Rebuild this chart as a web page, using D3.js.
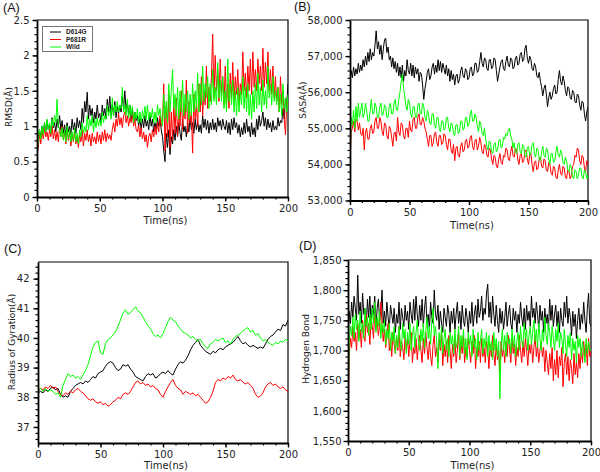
<!DOCTYPE html>
<html>
<head>
<meta charset="utf-8">
<script src="https://cdn.jsdelivr.net/npm/d3@7"></script>
<style>
  html, body { margin: 0; padding: 0; background: #fff; }
  svg { display: block; }
</style>
</head>
<body>
<svg id="chart" width="600" height="472"></svg>
<script>
// ---------------- DATA ----------------
const timeFine = d3.range(0, 201, 1);   // 0..200 ns every 1 ns (panels A, B, D)
const timeCoarse = d3.range(0, 201, 2); // 0..200 ns every 2 ns (panel C)
const seriesNames = ["D614G", "P681R", "Wild"];
const xTickLabels = [0, 50, 100, 150, 200];

// (A) RMSD (Å), 1 ns
const rmsdD614G = [
0.55,0.8,0.95,0.85,1.0,0.88,1.05,0.92,1.08,0.95,
1.02,0.9,1.12,0.98,1.05,0.92,1.1,0.98,1.15,0.95,
1.08,0.9,1.02,0.85,1.05,0.92,1.0,0.88,1.1,0.95,
1.05,0.9,1.12,0.98,1.08,0.95,1.25,1.05,1.35,1.2,
1.48,1.1,1.3,1.15,1.25,1.05,1.2,1.1,1.3,1.12,
1.18,1.05,1.3,1.15,1.25,1.1,1.38,1.2,1.42,1.15,
1.3,1.15,1.35,1.12,1.28,1.18,1.3,1.2,1.42,1.25,
1.5,1.2,1.35,1.15,1.3,1.1,1.25,1.05,1.2,1.08,
1.15,1.0,1.12,0.95,1.1,0.98,1.15,1.0,1.08,0.95,
1.15,1.0,1.1,0.92,1.05,0.95,1.12,1.0,1.1,0.95,
0.85,0.65,0.5,0.9,0.7,0.95,0.6,0.85,0.75,0.95,
0.8,1.0,0.85,1.05,0.9,0.8,1.1,0.92,1.0,0.85,
1.05,0.92,1.12,0.95,1.05,0.9,1.1,0.95,1.08,0.92,
1.02,0.9,1.15,0.98,1.1,0.95,1.08,0.9,1.05,0.95,
1.1,0.95,1.05,0.92,1.12,1.0,1.08,0.95,1.1,1.0,
0.95,1.08,0.9,1.05,0.88,1.1,0.95,1.12,0.98,1.05,
0.9,1.02,0.85,0.98,0.88,1.05,0.9,1.1,0.92,1.0,
0.85,1.05,0.88,0.98,0.85,1.1,0.95,1.15,1.0,1.08,
1.2,1.0,1.12,0.95,1.1,0.98,1.05,0.92,1.08,0.95,
1.0,0.95,1.12,1.0,1.08,1.05,1.25,1.1,1.4,1.3,
1.6];
const rmsdP681R = [
0.6,0.7,0.9,0.75,0.95,0.82,0.98,0.85,0.92,0.8,
0.95,0.85,1.0,0.82,0.95,0.8,0.92,0.78,0.98,0.85,
1.0,0.82,0.9,0.75,0.95,0.8,0.92,0.72,0.88,0.78,
0.92,0.75,0.85,0.7,0.88,0.78,0.95,0.72,0.9,0.8,
0.95,0.78,0.88,0.72,0.9,0.78,0.85,0.75,0.92,0.78,
0.88,0.75,0.92,0.8,0.95,0.78,0.9,0.82,0.88,0.8,
0.95,1.05,0.92,1.1,1.0,1.18,1.02,1.12,0.98,1.15,
1.2,1.05,1.15,1.0,1.12,1.05,1.18,1.0,1.1,0.95,
0.92,1.02,0.85,0.98,0.82,0.92,0.78,0.88,0.7,0.85,
0.9,0.78,0.95,0.85,1.0,0.88,1.05,0.92,1.15,1.0,
1.05,1.6,0.65,1.3,0.85,1.45,0.7,1.2,0.8,1.35,
0.9,1.4,0.85,1.25,1.0,1.5,0.95,1.3,1.1,1.65,
0.9,1.35,1.05,1.2,0.62,1.45,1.1,1.3,1.0,1.6,
1.2,1.7,1.15,1.5,1.3,1.85,1.25,1.55,1.35,1.7,
2.3,1.4,2.0,1.5,1.8,1.35,1.95,1.45,1.7,1.3,
1.85,1.3,1.6,1.25,1.75,1.4,1.9,1.35,1.7,1.45,
1.8,1.3,1.6,1.45,2.05,1.5,1.75,1.4,1.85,1.5,
1.95,1.45,2.05,1.55,1.8,1.5,1.95,1.6,1.85,1.5,
2.1,1.55,1.9,1.6,2.05,1.5,1.8,1.45,1.85,1.4,
1.7,1.35,1.55,1.2,1.7,1.3,1.5,1.1,0.88,1.35,
1.3];
const rmsdWild = [
0.65,0.8,0.95,0.82,1.0,0.88,1.05,0.92,1.1,0.95,
1.05,0.9,1.1,1.0,1.15,1.05,1.38,1.0,0.95,0.85,
0.98,0.8,0.95,0.78,1.0,0.82,0.95,0.78,0.92,0.8,
0.98,0.78,0.9,0.75,0.95,0.85,1.05,0.9,1.0,0.92,
1.15,0.95,1.1,1.0,1.15,0.92,1.1,0.98,1.12,1.0,
1.1,1.0,1.2,1.05,1.15,1.1,1.3,1.15,1.25,1.1,
1.4,1.15,1.3,1.2,1.35,1.2,1.3,1.25,1.55,1.2,
1.3,1.15,1.38,1.12,1.3,1.15,1.28,1.05,1.2,1.1,
1.25,1.05,1.2,1.05,1.22,1.1,1.28,1.1,1.3,1.08,
1.2,1.12,1.25,1.05,1.2,1.05,1.3,1.15,1.25,1.1,
1.0,1.45,1.1,1.35,1.05,1.6,1.2,1.5,1.8,1.25,
1.45,1.15,1.55,1.1,1.5,1.2,1.65,1.15,1.45,1.2,
1.5,1.1,1.45,1.15,1.6,1.2,1.5,1.25,1.75,1.2,
1.6,1.3,1.85,1.35,1.6,1.4,1.7,1.25,1.6,1.3,
1.8,1.35,1.55,1.3,1.9,1.4,1.65,1.35,1.7,1.25,
1.5,1.2,1.95,1.35,1.6,1.3,1.65,1.2,1.5,1.15,
1.55,1.2,1.5,1.3,1.7,1.25,1.55,1.2,1.6,1.15,
1.45,1.1,1.5,1.2,1.6,1.25,1.75,1.3,1.55,1.2,
1.65,1.3,1.5,1.25,1.85,1.4,1.6,1.3,1.7,1.35,
1.5,1.3,1.55,1.2,1.45,1.15,1.6,1.25,1.4,1.2,
1.45];
const rmsdTicks = [0, 0.5, 1, 1.5, 2, 2.5];

// (B) SASA (Å), 1 ns
const sasaD614G = [
56300,56600,56400,56700,56450,56650,56500,56800,56550,56750,
56600,56900,56700,57000,56750,57100,56850,57200,56900,57100,
57000,57300,57700,57200,57400,57050,57300,56900,57200,57450,
57500,57100,57250,56900,57000,56700,56950,56650,56850,56550,
56800,56450,56700,56400,56750,56300,56600,56450,56900,56600,
56500,56800,56450,56750,56400,56700,56500,56650,56300,56550,
56500,56200,55800,56100,56300,56550,56650,56350,56450,56700,
56800,56500,56750,56550,56900,56600,56850,56550,56800,56650,
56500,56750,56450,56650,56300,56600,56350,56500,56200,56450,
56500,56250,56350,56600,56700,56450,56400,56650,56600,56350,
56400,56650,56700,56450,56500,56800,56800,56550,56600,56850,
57100,56800,56700,56950,56900,56650,56600,56900,56900,56650,
56700,56950,56900,56600,56300,56500,56700,56850,56900,56650,
56600,56850,57000,56750,56700,56950,56900,56650,56700,56950,
57000,56750,56800,57050,57100,56850,56900,57200,57300,56950,
56800,57000,56900,56650,56600,56800,56700,56450,56400,56550,
56300,56150,55900,56100,56200,55950,55600,55850,56000,55800,
55900,56100,56200,55950,56000,56350,56600,56300,56200,56450,
56300,56050,55900,56150,56100,55850,55800,56050,56000,55750,
55700,55950,55900,55650,55500,55750,55700,55400,55200,55450,
55600];
const sasaP681R = [
54000,54900,55000,55200,54900,55250,55200,54950,55150,54850,
54800,55000,54400,54900,55000,54700,54700,55000,55100,54850,
54900,55200,55300,55000,55000,55300,55200,54900,54800,55150,
55100,54800,54700,55050,55000,54750,54500,54850,54900,54650,
55300,54900,54800,55150,55100,54800,54700,55000,55000,54750,
55200,54950,54900,55250,55300,55000,55000,55300,55400,55100,
55100,55300,55200,55000,54900,54700,54500,54800,54800,54500,
54600,54850,54900,54600,54500,54800,54800,54550,54600,54850,
54800,54550,54400,54700,54700,54400,54300,54550,54100,54450,
54500,54250,54200,54500,54600,54350,54400,54650,54700,54450,
54500,54750,54800,54500,54400,54650,54700,54400,54500,54750,
54600,54350,54300,54550,54500,54250,54200,54450,54400,54150,
54000,54250,54200,53950,53900,54150,54300,54050,54000,54250,
54200,54450,54400,54150,54100,54350,54500,54250,54200,54450,
54400,54150,54000,54250,54300,54050,54100,54350,54400,54150,
54000,54250,54300,54000,53800,54050,54100,53850,53900,54150,
54200,53950,53900,54150,54100,53850,53800,54050,54000,53750,
53700,53950,53900,53650,53600,53850,54000,53750,53700,53950,
53900,53650,53600,53850,53800,53600,53700,53950,54000,54250,
54200,54450,54400,54100,54000,54250,54200,53900,53800,54100,
54000];
const sasaWild = [
54000,55300,55100,55500,55000,55600,55200,55700,55300,55500,
55700,55300,55400,55700,55500,55200,55200,55500,55800,55400,
55400,55700,55600,55300,55300,55600,55700,55350,55400,55650,
55600,55300,55300,55600,55700,55400,55400,55700,55800,55500,
55500,55800,56000,56300,56500,56100,55900,55600,55500,55800,
55700,55400,55300,55600,55600,55300,55300,55650,55700,55400,
55400,55700,55600,55300,55200,55500,55400,55150,55100,55400,
55400,55100,55000,55300,55300,55000,54900,55200,55200,54950,
55000,55300,55300,55000,54900,55150,55100,54850,54800,55100,
55100,54850,54900,55200,55200,54950,55000,55300,55300,55050,
55100,55400,55500,55200,55200,55400,55300,55050,54900,55200,
55100,54850,54800,55000,54700,54500,54400,54650,54600,54350,
54300,54550,54600,54350,54400,54650,54700,54450,54500,54750,
54700,54850,54800,54950,55000,54800,54700,54450,54600,54350,
54300,54550,54600,54350,54300,54550,54500,54250,54200,54450,
54500,54250,54300,54550,54600,54300,54200,54450,54400,54150,
54100,54350,54500,54250,54200,54450,54400,54150,54000,54300,
54300,54050,54100,54350,54500,54250,54200,54400,54300,54050,
54000,54200,54100,53850,53800,54000,53900,53650,53600,53850,
53800,53600,53700,53900,53900,53650,53600,53850,53800,53600,
53700];
const sasaTicks = [53000, 54000, 55000, 56000, 57000, 58000];

// (C) Radius of gyration (Å), 2 ns
const rgD614G = [38.15,38.2,38.15,38.25,38.2,38.3,38.35,38.25,38.3,38.1,38.0,38.05,38.0,38.2,38.3,38.4,38.45,38.5,38.45,38.55,38.5,38.6,38.7,38.65,38.8,38.85,38.9,39.05,39.15,39.2,39.15,39.0,38.9,38.95,39.1,39.05,39.1,38.95,38.85,38.7,38.65,38.6,38.55,38.7,38.8,38.75,38.8,38.65,38.7,38.8,38.85,38.8,38.9,38.8,38.75,38.95,39.1,39.2,39.15,39.25,39.4,39.6,39.75,39.85,39.95,39.75,39.65,39.55,39.5,39.45,39.55,39.5,39.6,39.65,39.6,39.7,39.75,39.8,39.85,39.95,40.05,39.9,39.8,39.85,39.75,39.7,39.75,39.7,39.65,39.7,39.65,39.8,39.95,40.05,40.1,40.2,40.3,40.25,40.45,40.4,40.6];
const rgP681R = [38.2,38.3,38.25,38.35,38.3,38.4,38.3,38.35,38.2,38.1,38.05,38.15,38.1,38.2,38.15,38.25,38.3,38.2,38.15,38.05,37.95,37.9,37.95,37.85,37.8,37.85,37.75,37.8,37.7,37.75,37.85,37.9,38.0,37.95,38.1,38.15,38.1,38.2,38.35,38.5,38.55,38.45,38.5,38.4,38.45,38.35,38.4,38.3,38.25,38.1,38.0,38.2,38.35,38.5,38.6,38.4,38.3,38.25,38.1,38.2,38.15,38.1,38.15,38.05,38.1,38.0,37.9,37.8,37.85,38.0,38.2,38.5,38.6,38.55,38.65,38.6,38.7,38.65,38.75,38.6,38.55,38.6,38.5,38.45,38.5,38.4,38.3,38.1,38.0,38.05,38.15,38.35,38.45,38.5,38.4,38.45,38.35,38.3,38.35,38.25,38.2];
const rgWild = [38.25,38.3,38.2,38.3,38.2,38.25,38.2,38.1,38.15,38.0,38.4,38.6,38.8,38.7,38.75,38.65,38.7,38.6,38.75,38.9,39.1,39.4,39.7,39.85,39.9,39.5,39.45,39.8,39.95,40.0,40.1,40.2,40.4,40.6,40.85,40.95,40.8,40.85,40.95,41.05,40.9,40.85,40.7,40.55,40.4,40.3,40.15,40.05,40.1,40.0,40.15,40.35,40.55,40.7,40.6,40.55,40.4,40.3,40.2,40.15,40.1,40.0,40.05,39.95,39.9,39.95,39.8,39.7,39.65,39.8,39.85,39.95,39.9,39.95,40.0,39.85,39.9,39.8,39.95,40.05,40.1,40.15,40.25,40.3,40.35,40.2,40.25,40.1,40.15,40.0,39.9,39.95,39.85,39.8,39.75,39.85,39.8,39.9,39.85,39.95,39.9];
const rgTicks = [37, 38, 39, 40, 41, 42];

// (D) Hydrogen bonds, 1 ns
const hbD614G = [
1700,1765,1745,1780,1755,1790,1770,1750,1825,1760,
1780,1745,1795,1760,1770,1740,1785,1755,1790,1745,
1775,1760,1790,1740,1770,1785,1750,1765,1800,1745,
1765,1740,1780,1755,1735,1775,1760,1745,1770,1730,
1760,1745,1780,1735,1770,1755,1740,1775,1750,1765,
1735,1780,1760,1745,1785,1750,1790,1760,1740,1775,
1750,1785,1740,1770,1790,1745,1760,1735,1780,1755,
1745,1800,1760,1750,1775,1735,1765,1745,1730,1770,
1755,1740,1775,1760,1730,1765,1745,1770,1735,1760,
1780,1745,1765,1735,1775,1750,1740,1770,1755,1730,
1765,1745,1780,1740,1760,1775,1745,1785,1755,1765,
1790,1750,1770,1760,1795,1810,1755,1780,1745,1790,
1760,1740,1775,1750,1730,1770,1745,1765,1735,1755,
1780,1740,1760,1775,1745,1735,1770,1750,1765,1730,
1760,1745,1780,1755,1740,1770,1735,1775,1750,1765,
1740,1790,1755,1770,1745,1780,1760,1735,1775,1750,
1765,1730,1770,1745,1760,1735,1785,1750,1775,1740,
1760,1775,1740,1765,1730,1770,1750,1740,1780,1755,
1790,1745,1770,1755,1725,1765,1740,1760,1720,1750,
1770,1735,1760,1745,1780,1750,1730,1770,1795,1745,
1740];
const hbP681R = [
1560,1690,1720,1705,1740,1715,1730,1700,1745,1720,
1735,1705,1750,1725,1715,1760,1730,1745,1710,1755,
1740,1720,1765,1735,1750,1725,1740,1780,1745,1715,
1735,1705,1725,1745,1700,1720,1690,1730,1710,1695,
1725,1700,1740,1690,1715,1705,1685,1725,1700,1720,
1690,1715,1730,1680,1705,1695,1720,1685,1710,1725,
1700,1680,1720,1695,1730,1705,1685,1715,1690,1675,
1710,1725,1690,1705,1680,1720,1700,1730,1675,1710,
1690,1715,1680,1725,1700,1670,1710,1690,1720,1680,
1700,1730,1685,1715,1695,1725,1680,1705,1690,1720,
1700,1680,1715,1695,1725,1670,1705,1690,1715,1680,
1720,1690,1705,1680,1715,1700,1670,1710,1690,1725,
1695,1675,1710,1685,1700,1665,1715,1690,1705,1680,
1715,1690,1725,1700,1680,1720,1695,1710,1675,1705,
1690,1725,1700,1680,1715,1690,1720,1700,1675,1710,
1695,1715,1680,1705,1725,1690,1710,1680,1700,1715,
1690,1705,1665,1700,1680,1660,1695,1670,1705,1650,
1685,1660,1700,1655,1690,1675,1705,1640,1680,1695,
1660,1690,1650,1685,1670,1645,1695,1660,1680,1655,
1695,1670,1705,1680,1715,1690,1710,1675,1720,1690,
1700];
const hbWild = [
1600,1715,1740,1725,1755,1720,1760,1735,1750,1715,
1765,1730,1745,1720,1770,1740,1755,1725,1760,1735,
1770,1745,1780,1730,1755,1740,1765,1720,1745,1730,
1750,1710,1735,1720,1745,1700,1730,1715,1740,1695,
1725,1705,1740,1715,1700,1745,1720,1735,1695,1730,
1710,1745,1700,1725,1740,1705,1730,1750,1715,1700,
1735,1715,1745,1705,1730,1755,1720,1740,1710,1750,
1770,1725,1740,1715,1670,1730,1705,1740,1695,1720,
1735,1700,1720,1690,1730,1710,1725,1695,1735,1705,
1715,1740,1690,1725,1705,1735,1695,1720,1685,1730,
1710,1725,1690,1735,1705,1720,1685,1730,1700,1715,
1735,1695,1720,1705,1730,1690,1725,1700,1715,1685,
1730,1700,1720,1690,1715,1620,1710,1735,1700,1725,
1690,1730,1710,1720,1695,1735,1705,1725,1690,1715,
1730,1700,1740,1715,1705,1745,1720,1735,1700,1725,
1740,1710,1730,1750,1715,1735,1705,1745,1720,1700,
1735,1715,1755,1725,1710,1745,1730,1705,1740,1720,
1700,1735,1715,1745,1705,1730,1720,1695,1735,1710,
1690,1725,1705,1730,1685,1720,1700,1715,1680,1725,
1705,1720,1690,1715,1700,1680,1720,1695,1715,1700,
1700];
const hbTicks = [1550, 1600, 1650, 1700, 1750, 1800, 1850];

// ---------------- DRAWING ----------------
const colors = { D614G: "#000000", P681R: "#ff0000", Wild: "#00ff00" };
const svg = d3.select("#chart");
const TICK_FONT = "'DejaVu Sans', Verdana, sans-serif";

function drawPanel(o) {
  const x = d3.scaleLinear().domain([0, 200]).range([o.left, o.right]);
  const y = d3.scaleLinear().domain(o.yDomain).range([o.bottom, o.top]);
  const g = svg.append("g");
  const clipId = "clip" + o.label;
  svg.append("clipPath").attr("id", clipId).append("rect")
    .attr("x", o.left).attr("y", o.top)
    .attr("width", o.right - o.left).attr("height", o.bottom - o.top);

  // frame (top and right)
  g.append("path")
    .attr("d", `M${o.left},${o.top}H${o.right}V${o.bottom}`)
    .attr("fill", "none").attr("stroke", "#000").attr("stroke-width", 1.2);

  // lines
  const line = d3.line().x((d, i) => x(o.time[i])).y(d => y(d));
  const lg = g.append("g").attr("clip-path", `url(#${clipId})`);
  o.series.forEach((vals, k) => {
    lg.append("path").datum(vals)
      .attr("d", line)
      .attr("fill", "none")
      .attr("stroke", colors[seriesNames[k]])
      .attr("stroke-width", 1)
      .attr("stroke-linejoin", "round");
  });

  // minor ticks
  const xMinor = d3.range(0, 201, 10);
  g.append("g").attr("transform", `translate(0,${o.bottom})`)
    .call(d3.axisBottom(x).tickValues(xMinor).tickSize(2.5).tickFormat(""))
    .call(s => s.select(".domain").remove())
    .selectAll("line").attr("stroke-width", 1.2);
  g.append("g").attr("transform", `translate(${o.left},0)`)
    .call(d3.axisLeft(y).tickValues(o.yMinor).tickSize(2.5).tickFormat(""))
    .call(s => s.select(".domain").remove())
    .selectAll("line").attr("stroke-width", 1.2);

  // major axes
  const xa = g.append("g").attr("transform", `translate(0,${o.bottom})`)
    .call(d3.axisBottom(x).tickValues(xTickLabels).tickSize(4.5).tickSizeOuter(0).tickPadding(3.5).tickFormat(d3.format("d")));
  const ya = g.append("g").attr("transform", `translate(${o.left},0)`)
    .call(d3.axisLeft(y).tickValues(o.yTicks).tickSize(4.5).tickSizeOuter(0).tickPadding(o.yPad).tickFormat(o.yFormat));
  [xa, ya].forEach(a => {
    a.select(".domain").attr("stroke-width", 1.8);
    a.selectAll("line").attr("stroke-width", 1.4);
    a.selectAll("text").attr("font-family", TICK_FONT).attr("font-size", 10).attr("fill", "#222");
  });

  // axis titles
  g.append("text")
    .attr("x", (o.left + o.right) / 2 + 3).attr("y", o.xTitleY)
    .attr("text-anchor", "middle")
    .attr("font-family", TICK_FONT).attr("font-size", 10).attr("fill", "#222")
    .text("Time(ns)");
  g.append("text")
    .attr("transform", `translate(${o.yTitleX},${o.yTitleY}) rotate(-90)`)
    .attr("text-anchor", "middle")
    .attr("font-family", TICK_FONT).attr("font-size", 9).attr("fill", "#222")
    .text(o.yTitle);

  // panel label
  g.append("text")
    .attr("x", o.labelX).attr("y", o.labelY)
    .attr("font-family", "'Liberation Sans', Arial, sans-serif").attr("font-size", 12.5).attr("fill", "#111")
    .text("(" + o.label + ")");
  return { x, y, g };
}

drawPanel({
  label: "A", labelX: 3, labelY: 12,
  left: 37, right: 288, top: 20, bottom: 197, time: timeFine,
  yDomain: [0, 2.5], yTicks: rmsdTicks, yMinor: d3.range(0, 25.01, 1).map(v => v / 10),
  yFormat: d3.format("~g"), yPad: 3,
  series: [rmsdD614G, rmsdP681R, rmsdWild],
  yTitle: "RMSD(Å)", yTitleX: 12, yTitleY: 107, xTitleY: 224
});
drawPanel({
  label: "B", labelX: 294, labelY: 11,
  left: 350, right: 588, top: 20, bottom: 200.5, time: timeFine,
  yDomain: [53000, 58000], yTicks: sasaTicks, yMinor: d3.range(53000, 58001, 200),
  yFormat: d3.format(","), yPad: 3,
  series: [sasaD614G, sasaP681R, sasaWild],
  yTitle: "SASA(Å)", yTitleX: 306, yTitleY: 100, xTitleY: 229
});
drawPanel({
  label: "C", labelX: 4, labelY: 253,
  left: 38, right: 288, top: 262, bottom: 443, time: timeCoarse,
  yDomain: [36.46, 42.56], yTicks: rgTicks, yMinor: d3.range(183, 213, 1).map(v => v / 5),
  yFormat: d3.format("d"), yPad: 4,
  series: [rgD614G, rgP681R, rgWild],
  yTitle: "Radius of Gyration(Å)", yTitleX: 15, yTitleY: 342, xTitleY: 469
});
drawPanel({
  label: "D", labelX: 299, labelY: 250,
  left: 348, right: 591, top: 260, bottom: 441, time: timeFine,
  yDomain: [1550, 1850], yTicks: hbTicks, yMinor: d3.range(1550, 1851, 10),
  yFormat: d3.format(","), yPad: 2,
  series: [hbD614G, hbP681R, hbWild],
  yTitle: "Hydrogen Bond", yTitleX: 309, yTitleY: 349, xTitleY: 469
});

// legend in panel A
const leg = svg.append("g");
leg.append("rect").attr("x", 42.5).attr("y", 26.5).attr("width", 50).attr("height", 25)
  .attr("fill", "#fff").attr("stroke", "#777").attr("stroke-width", 1);
seriesNames.forEach((n, i) => {
  const yy = 32 + i * 7.5;
  leg.append("line").attr("x1", 50).attr("x2", 61).attr("y1", yy).attr("y2", yy)
    .attr("stroke", colors[n]).attr("stroke-width", 1);
  leg.append("text").attr("x", 66).attr("y", yy).attr("dy", "0.35em")
    .attr("font-family", "'Liberation Sans', Arial, sans-serif").attr("font-weight", "bold")
    .attr("font-size", 6.5).attr("fill", "#222").text(n);
});
</script>
</body>
</html>
